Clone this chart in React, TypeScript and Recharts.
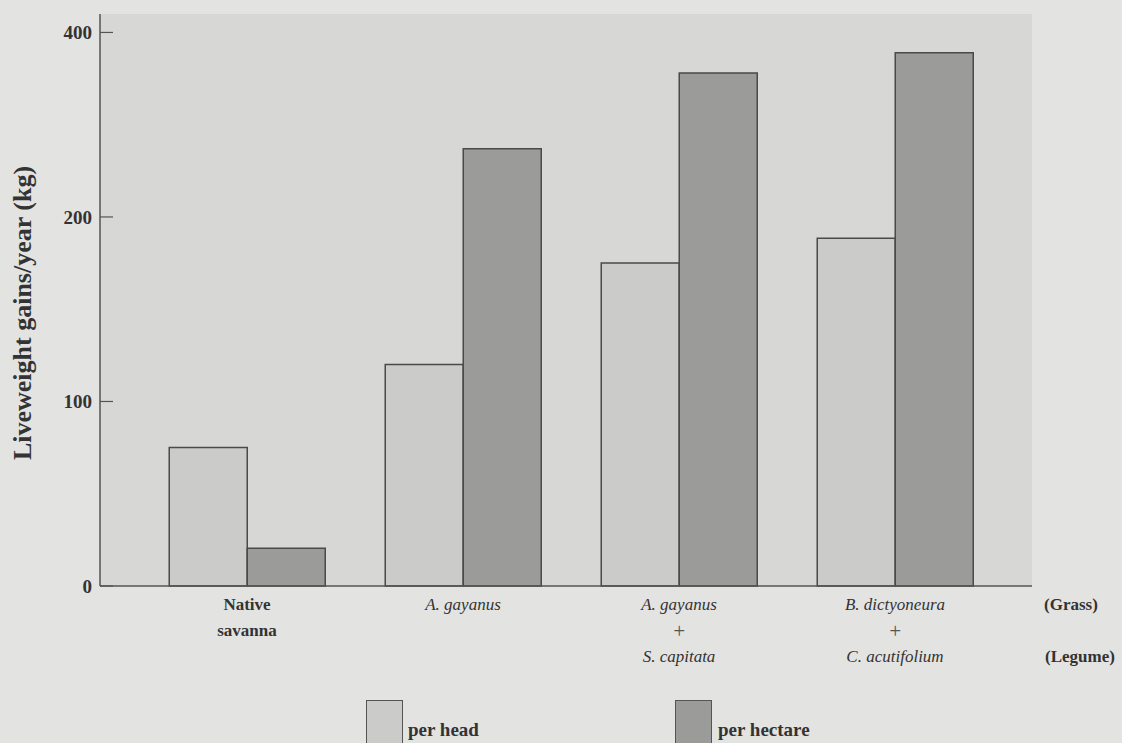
import React from 'react';
import { BarChart, Bar, XAxis, YAxis, CartesianGrid, Legend } from 'recharts';

// Liveweight gains (kg per year)
const categories = ['Native savanna', 'A. gayanus', 'A. gayanus + S. capitata', 'B. dictyoneura + C. acutifolium'];
const perHead = [75, 120, 175, 188.5];
const perHectare = [20.5, 237, 278, 289];

// label lines under each group, italic for species names
const categoryLines = [
  ['Native', 'savanna'],
  ['A. gayanus'],
  ['A. gayanus', '+', 'S. capitata'],
  ['B. dictyoneura', '+', 'C. acutifolium'],
];
const categoryItalic = [false, true, true, true];

// the printed axis shows 400 where 300 sits on the scale
const yTicks = [0, 100, 200, 300];
const yTickLabels = ['0', '100', '200', '400'];

const data = categories.map((name, i) => ({
  name,
  perHead: perHead[i],
  perHectare: perHectare[i],
}));

const FONT = '"Liberation Serif", "DejaVu Serif", serif';
const INK = '#333';

const XTick = (props: any) => {
  const { x, y, index } = props;
  const lines = categoryLines[index] || [];
  const italic = categoryItalic[index];
  return (
    <g>
      {lines.map((line, k) => (
        <text
          key={k}
          x={x}
          y={y + 16 + k * 26 + (line === '+' ? 2 : 0)}
          textAnchor="middle"
          fontFamily={FONT}
          fontSize={line === '+' ? 21 : 17}
          fontStyle={italic ? 'italic' : 'normal'}
          fontWeight={italic ? 'normal' : 'bold'}
          fill={line === '+' ? '#555' : INK}
        >
          {line}
        </text>
      ))}
    </g>
  );
};

const YLabel = (props: any) => {
  const { x, y, height } = props.viewBox;
  const cx = x - 18;
  const cy = y + height / 2 + 13;
  return (
    <text
      x={cx}
      y={cy}
      transform={`rotate(-90 ${cx} ${cy})`}
      textAnchor="middle"
      dominantBaseline="central"
      fontFamily={FONT}
      fontSize={26}
      fontWeight="bold"
      fill={INK}
    >
      Liveweight gains/year (kg)
    </text>
  );
};

const LegendBox = () => (
  <div style={{ position: 'relative', width: 1122, height: 50, fontFamily: FONT }}>
    <div style={{ position: 'absolute', left: 366, top: 3, width: 35, height: 45, background: '#cbcbc9', border: '1.5px solid #555' }} />
    <span style={{ position: 'absolute', left: 408, top: 22, fontSize: 19, fontWeight: 'bold', color: INK }}>per head</span>
    <div style={{ position: 'absolute', left: 675, top: 3, width: 35, height: 45, background: '#9b9b99', border: '1.5px solid #555' }} />
    <span style={{ position: 'absolute', left: 718, top: 22, fontSize: 19, fontWeight: 'bold', color: INK }}>per hectare</span>
  </div>
);

const App = () => (
  <div style={{ position: 'absolute', left: 0, top: 0, width: 1122, height: 743, background: '#e3e3e1', overflow: 'hidden' }}>
    <BarChart
      width={1122}
      height={743}
      data={data}
      margin={{ top: 14, right: 90, bottom: 77, left: 40 }}
      barGap={0}
      barCategoryGap="14%"
    >
      <CartesianGrid fill="#d7d7d5" horizontal={false} vertical={false} />
      <XAxis
        dataKey="name"
        height={80}
        padding={{ left: 39, right: 29 }}
        axisLine={{ stroke: '#555', strokeWidth: 1.5 }}
        tickLine={false}
        tick={<XTick />}
        interval={0}
      />
      <XAxis xAxisId="top" orientation="top" height={0} tick={false} tickLine={false} axisLine={{ stroke: '#666', strokeWidth: 1.2 }} />
      <YAxis
        width={60}
        domain={[0, 310]}
        ticks={yTicks}
        tickFormatter={(v: number) => yTickLabels[yTicks.indexOf(v)]}
        tickSize={-13}
        tickMargin={21}
        tickLine={{ stroke: '#555', strokeWidth: 1.2 }}
        axisLine={{ stroke: '#555', strokeWidth: 1.5 }}
        tick={{ fontFamily: FONT, fontSize: 19, fontWeight: 'bold', fill: INK }}
        label={<YLabel />}
      />
      <YAxis yAxisId="right" orientation="right" width={0} tick={false} tickLine={false} axisLine={{ stroke: '#666', strokeWidth: 1.2 }} />
      <Legend
        layout="vertical"
        align="center"
        verticalAlign="middle"
        wrapperStyle={{ left: 0, top: 697, width: 1122 }}
        content={<LegendBox />}
      />
      <Bar dataKey="perHead" fill="#cbcbc9" stroke="#4a4a4a" strokeWidth={1.5} isAnimationActive={false} />
      <Bar dataKey="perHectare" fill="#9b9b99" stroke="#4a4a4a" strokeWidth={1.5} isAnimationActive={false} />
    </BarChart>
    <div style={{ position: 'absolute', left: 1044, top: 595, fontFamily: FONT, fontSize: 17, fontWeight: 'bold', color: INK }}>(Grass)</div>
    <div style={{ position: 'absolute', left: 1045, top: 647, fontFamily: FONT, fontSize: 17, fontWeight: 'bold', color: INK }}>(Legume)</div>
  </div>
);

export default App;
